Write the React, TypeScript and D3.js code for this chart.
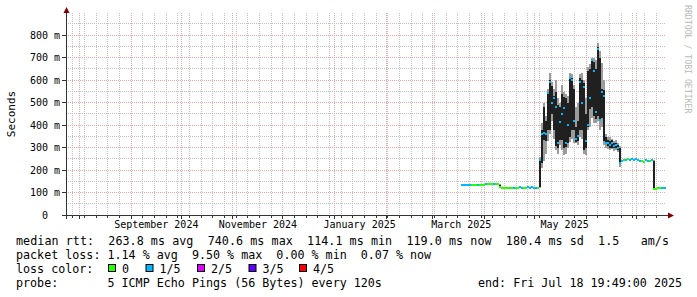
import React from 'react';
import * as d3 from 'd3';

// ---- time frame ----
const GRAPH_START = '2024-07-23T19:49:00Z';
const GRAPH_END = '2025-07-18T19:49:00Z';
const DATA_START = '2025-03-18T00:00:00Z';
const STEP_HOURS = 28.8; // one consolidated sample

const N = null;

// median rtt (ms) per sample
const median: number[] = [
  134, 134, 134, 134, 134, 134, 135, 134, 135, 135, 135, 135, 136, 136, 136, 138, 140, 138, 137,
  125,
  122, 121, 122, 121, 122, 122, 122, 121, 122, 123, 122, 122, 122, 124, 122, 123, 122, 122, 122,
  244, 360, 364, 360, 541, 590, 500, 520, 480, 320, 415, 450, 474, 320, 400, 610, 600, 420, 340,
  350, 593, 500, 570, 330, 400, 520, 689, 640, 460, 740, 422, 548, 530, 320,
  318, 310, 320, 305, 310, 300,
  232,
  240, 244, 246, 248, 246, 247, 245, 248, 246, 242, 240, 236, 244, 240, 238, 243,
  114,
  114, 120, 121, 118, 119, 119,
];

// lost pings (of 5) per sample
const loss: number[] = [
  1, 1, 1, 1, 1, 0, 0, 0, 1, 0, 0, 0, 1, 0, 0, 0, 1, 0, 0,
  0,
  0, 0, 0, 0, 0, 0, 1, 0, 0, 1, 1, 0, 0, 1, 1, 1, 1, 1, 0,
  1, 1, 1, 1, 1, 1, 1, 1, 1, 1, 1, 1, 1, 1, 1, 1, 1, 1, 1,
  1, 1, 1, 1, 1, 1, 1, 1, 1, 1, 1, 1, 1, 1, 1,
  1, 1, 1, 1, 1, 1,
  1,
  1, 0, 1, 0, 1, 1, 1, 1, 1, 1, 0, 0, 1, 1, 0, 1,
  0,
  0, 0, 0, 1, 1, 1,
];

// smoke: fastest/slowest ping and 2nd/4th ping (ms); null = no visible smoke
const pingMin: (number | null)[] = [
  N, N, N, N, N, N, N, N, N, N, N, N, N, N, N, N, N, N, N,
  120,
  N, N, N, N, N, N, N, N, N, N, N, N, N, N, N, N, N, N, N,
  120, 210, 240, 270, 330, 360, 420, 340, 290, 270, 310, 290, 265, 270, 300, 325, 340, 320, 320,
  310, 345, 340, 270, 265, 380, 390, 430, 410, 410, 420, 380, 390, 310, 300,
  295, 290, 292, 285, 288, 280,
  215,
  N, N, N, N, N, N, N, N, N, N, N, N, N, N, N, N,
  111,
  N, N, N, N, N, N,
];
const pingQ1: (number | null)[] = [
  N, N, N, N, N, N, N, N, N, N, N, N, N, N, N, N, N, N, N,
  122,
  N, N, N, N, N, N, N, N, N, N, N, N, N, N, N, N, N, N, N,
  124, 230, 333, 330, 378, 380, 450, 378, 305, 300, 333, 333, 300, 304, 320, 348, 378, 378, 326,
  330, 378, 380, 289, 300, 392, 470, 481, 440, 425, 440, 422, 430, 330, 320,
  305, 300, 300, 296, 298, 290,
  225,
  N, N, N, N, N, N, N, N, N, N, N, N, N, N, N, N,
  113,
  N, N, N, N, N, N,
];
const pingQ3: (number | null)[] = [
  N, N, N, N, N, N, N, N, N, N, N, N, N, N, N, N, N, N, N,
  134,
  N, N, N, N, N, N, N, N, N, N, N, N, N, N, N, N, N, N, N,
  250, 378, 481, 420, 545, 600, 575, 530, 548, 490, 481, 540, 526, 520, 500, 615, 610, 560, 392,
  420, 610, 600, 585, 450, 640, 650, 690, 680, 650, 745, 700, 560, 555, 345,
  335, 330, 335, 320, 322, 310,
  300,
  N, N, N, N, N, N, N, N, N, N, N, N, N, N, N, N,
  240,
  N, N, N, N, N, N,
];
const pingMax: (number | null)[] = [
  N, N, N, N, N, N, N, N, N, N, N, N, N, N, N, N, N, N, N,
  136,
  N, N, N, N, N, N, N, N, N, N, N, N, N, N, N, N, N, N, N,
  256, 410, 500, 440, 560, 630, 590, 560, 600, 520, 500, 578, 545, 540, 530, 630, 625, 580, 480,
  500, 625, 630, 600, 520, 660, 670, 700, 696, 690, 763, 730, 674, 600, 360,
  348, 345, 340, 330, 332, 320,
  305,
  N, N, N, N, N, N, N, N, N, N, N, N, N, N, N, N,
  245,
  N, N, N, N, N, N,
];

const yTickValues = [0, 100, 200, 300, 400, 500, 600, 700, 800];
const yTickLabels = ['0  ', '100 m', '200 m', '300 m', '400 m', '500 m', '600 m', '700 m', '800 m'];
// label anchor dates (label text taken from the month of each)
const xLabelDates = ['2024-09-16', '2024-11-16', '2025-01-16', '2025-03-18', '2025-05-19'];

const lossColors = ['#26ff00', '#00b8ff', '#dd00ff', '#5e00ff', '#ff0000'];
const lossLabels = ['0', '1/5', '2/5', '3/5', '4/5'];

const legendRow1 = 'median rtt:  263.8 ms avg  740.6 ms max  114.1 ms min  119.0 ms now  180.4 ms sd  1.5   am/s';
const legendRow2 = 'packet loss: 1.14 % avg  9.50 % max  0.00 % min  0.07 % now';
const legendRow3 = 'loss color:';
const legendProbe = 'probe:       5 ICMP Echo Pings (56 Bytes) every 120s';
const legendEnd = 'end: Fri Jul 18 19:49:00 2025';

const MONO = '"DejaVu Sans Mono", monospace';

export default function App() {
  const start = new Date(GRAPH_START);
  const end = new Date(GRAPH_END);
  const left = 66;
  const right = 666;
  const x = d3.scaleUtc().domain([start, end]).range([left, right]);
  const y = d3.scaleLinear().domain([0, 900]).range([215, 12.5]);
  const plotTop = 13;
  const c = (v: number) => Math.floor(v) + 0.5;

  const t0 = Date.parse(DATA_START);
  const stepMs = STEP_HOURS * 3600 * 1000;
  const tAt = (i: number) => new Date(t0 + i * stepMs);
  const xs = (i: number) => Math.min(right, x(tAt(i)));

  const months = d3.utcMonth.range(d3.utcMonth.ceil(start), end);
  const monthKeys = new Set(months.map((m) => m.getTime()));
  const weeks = d3.utcSunday.range(d3.utcSunday.ceil(start), end).filter((w) => !monthKeys.has(w.getTime()));

  const minorY = d3.range(50, 900, 100);
  const gridMinor = '#c2c2c2';
  const gridMajor = '#eaa6a6';

  const legendX = 16;
  const rowY = [245, 259, 273, 287];
  const boxX = [108, 145.5, 197, 248.5, 299];

  return (
    <svg
      width={697}
      height={297}
      style={{ position: 'absolute', left: 0, top: 0, background: '#ffffff' }}
      xmlns="http://www.w3.org/2000/svg"
    >
      <rect x={0} y={0} width={697} height={297} fill="#ffffff" />

      {/* minor grid */}
      <g stroke={gridMinor} strokeWidth={1} strokeDasharray="1,1" shapeRendering="crispEdges">
        {weeks.map((w, i) => (
          <line key={'w' + i} x1={c(x(w))} x2={c(x(w))} y1={plotTop} y2={215} />
        ))}
        {minorY.map((v, i) => (
          <line key={'my' + i} x1={left} x2={right} y1={c(y(v))} y2={c(y(v))} />
        ))}
      </g>
      {/* major grid */}
      <g stroke={gridMajor} strokeWidth={1} strokeDasharray="1,1" shapeRendering="crispEdges">
        {months.map((m, i) => (
          <line key={'m' + i} x1={c(x(m))} x2={c(x(m))} y1={plotTop} y2={215} />
        ))}
        {yTickValues.slice(1).map((v, i) => (
          <line key={'My' + i} x1={left} x2={right} y1={c(y(v))} y2={c(y(v))} />
        ))}
      </g>

      {/* smoke */}
      <g shapeRendering="crispEdges">
        {median.map((_, i) => {
          const lo = pingMin[i];
          const hi = pingMax[i];
          if (lo == null || hi == null) return null;
          return (
            <rect key={'so' + i} x={xs(i)} width={xs(i + 1) - xs(i)} y={y(hi)} height={y(lo) - y(hi)} fill="#9c9c9c" />
          );
        })}
        {median.map((_, i) => {
          const lo = pingQ1[i];
          const hi = pingQ3[i];
          if (lo == null || hi == null) return null;
          return (
            <rect key={'si' + i} x={xs(i)} width={xs(i + 1) - xs(i)} y={y(hi)} height={y(lo) - y(hi)} fill="#202020" />
          );
        })}
      </g>

      {/* median band coloured by loss */}
      <g shapeRendering="crispEdges">
        {median.map((m, i) => (
          <rect
            key={'md' + i}
            x={xs(i)}
            width={xs(i + 1) - xs(i)}
            y={y(m) - 1}
            height={2}
            fill={lossColors[loss[i]]}
          />
        ))}
      </g>

      {/* axes */}
      <g stroke="#333333" strokeWidth={1} shapeRendering="crispEdges">
        <line x1={62} x2={670} y1={215.5} y2={215.5} />
        <line x1={66.5} x2={66.5} y1={219} y2={11} />
        {yTickValues.map((v, i) => (
          <line key={'yt' + i} x1={62} x2={66} y1={c(y(v))} y2={c(y(v))} />
        ))}
        {months.map((m, i) => (
          <line key={'xt' + i} x1={c(x(m))} x2={c(x(m))} y1={216} y2={219} />
        ))}
        {weeks.map((w, i) => (
          <line key={'xw' + i} x1={c(x(w))} x2={c(x(w))} y1={216} y2={218} />
        ))}
      </g>
      <path d="M63.5,13 L66.5,7 L69.5,13 Z" fill="#7f0000" />
      <path d="M668,212.5 L674,215.5 L668,218.5 Z" fill="#7f0000" />

      {/* y tick labels */}
      <g fontFamily={MONO} fontSize={10} fill="#000" textAnchor="end" style={{ whiteSpace: 'pre' }}>
        {yTickValues.map((v, i) => (
          <text key={'yl' + i} x={60} y={y(v) + 3.6} xmlSpace="preserve">
            {yTickLabels[i]}
          </text>
        ))}
      </g>

      {/* x labels */}
      <g fontFamily={MONO} fontSize={10} fill="#000" textAnchor="middle">
        {xLabelDates.map((s, i) => {
          const d = new Date(s + 'T00:00:00Z');
          return (
            <text key={'xl' + i} x={x(d)} y={227.5}>
              {d3.utcFormat('%B %Y')(d)}
            </text>
          );
        })}
      </g>

      {/* unit label */}
      <text
        transform="translate(15,114) rotate(-90)"
        textAnchor="middle"
        fontFamily={MONO}
        fontSize={11}
        fill="#000"
      >
        Seconds
      </text>

      {/* watermark */}
      <text
        transform="translate(684.5,5) rotate(90)"
        fontFamily={MONO}
        fontSize={8.2}
        fill="#b8b8b8"
      >
        RRDTOOL / TOBI OETIKER
      </text>

      {/* legend */}
      <g fontFamily={MONO} fontSize={11.7} fill="#000" style={{ whiteSpace: 'pre' }}>
        <text x={legendX} y={rowY[0]} xmlSpace="preserve" textLength={653} lengthAdjust="spacing">{legendRow1}</text>
        <text x={legendX} y={rowY[1]} xmlSpace="preserve">{legendRow2}</text>
        <text x={legendX} y={rowY[2]} xmlSpace="preserve">{legendRow3}</text>
        {lossLabels.map((l, i) => (
          <g key={'lg' + i}>
            <rect x={boxX[i] + 0.5} y={rowY[2] - 8.5} width={7} height={7} fill={lossColors[i]} stroke="#000" strokeWidth={1} />
            <text x={boxX[i] + 14} y={rowY[2]}>{l}</text>
          </g>
        ))}
        <text x={legendX} y={rowY[3]} xmlSpace="preserve">{legendProbe}</text>
        <text x={478} y={rowY[3]} xmlSpace="preserve">{legendEnd}</text>
      </g>
    </svg>
  );
}
